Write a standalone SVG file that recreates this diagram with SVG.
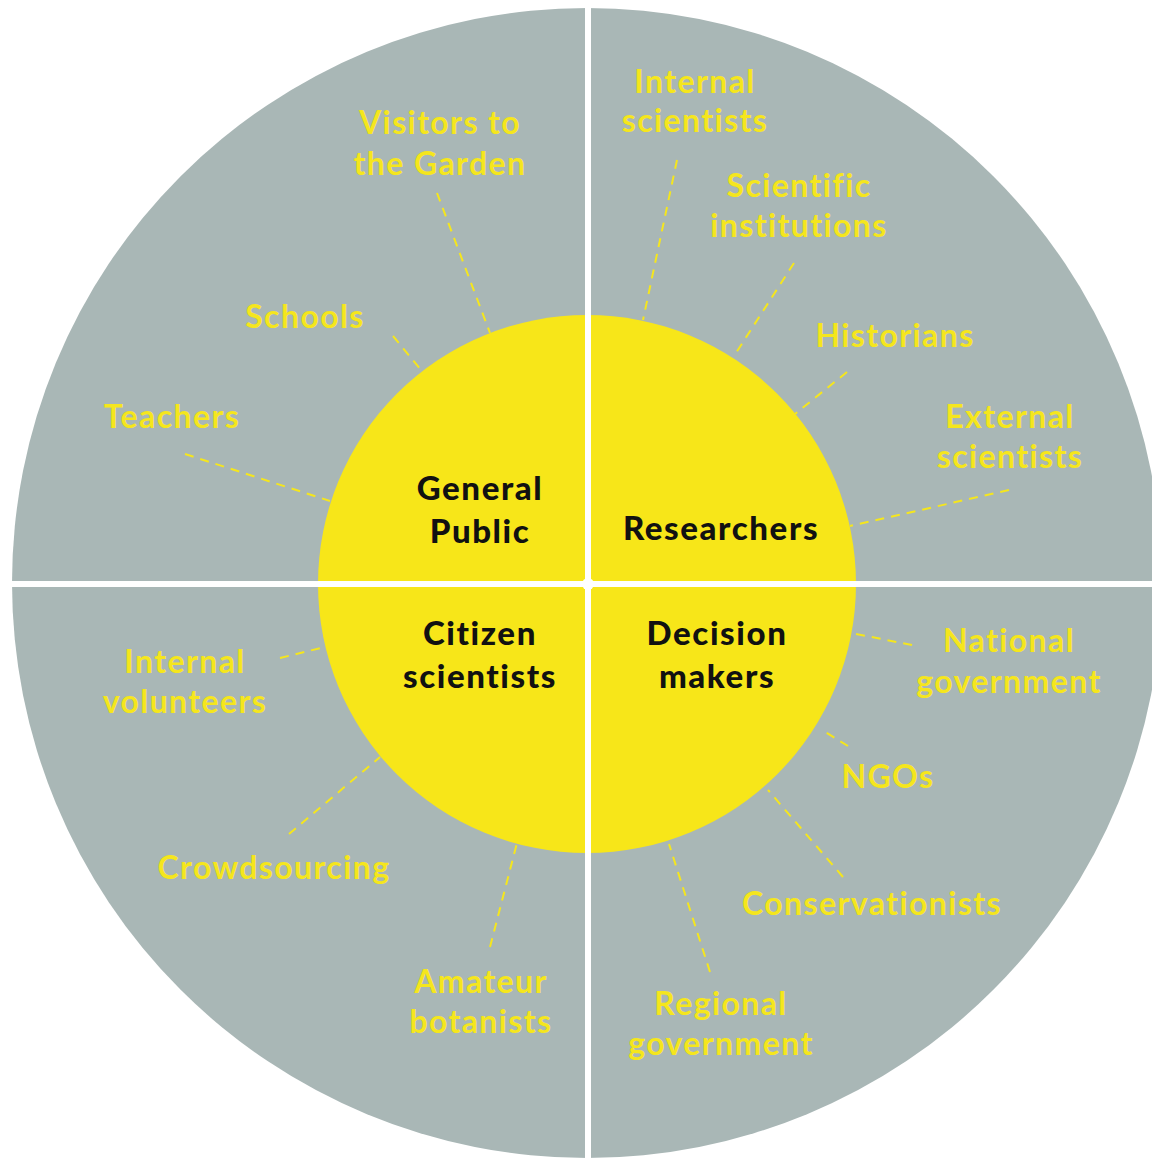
<svg xmlns="http://www.w3.org/2000/svg" width="1152" height="1159" viewBox="0 0 1152 1159">
<style>
.lbl{font-family:Lato,"Open Sans","Liberation Sans",sans-serif;font-weight:700;font-size:32px;fill:#f5e61d;text-anchor:middle;letter-spacing:1.4px}
.core{font-family:Lato,"Open Sans","Liberation Sans",sans-serif;font-weight:900;font-size:33px;fill:#111;text-anchor:middle;letter-spacing:1.6px}
.dash{stroke:#f5e61d;stroke-width:2;stroke-dasharray:9 7;fill:none}
</style>
<rect width="1152" height="1159" fill="#fff"/>
<g id="outer-ring">
<circle cx="587" cy="583" r="575" fill="#a9b7b6"/>
</g>
<g id="core-circle">
<circle cx="587" cy="584" r="269" fill="#f7e619"/>
</g>
<g id="dividers">
<rect x="585" y="0" width="6" height="1159" fill="#fff"/>
<rect x="0" y="581" width="1152" height="6" fill="#fff"/>
<circle cx="588" cy="584" r="6" fill="#fff"/>
</g>
<g id="connectors">
<line class="dash" x1="437" y1="193" x2="490" y2="333"/>
<line class="dash" x1="393" y1="336" x2="421" y2="370"/>
<line class="dash" x1="185" y1="454" x2="330" y2="501"/>
<line class="dash" x1="677" y1="160" x2="643" y2="320"/>
<line class="dash" x1="794" y1="263" x2="734" y2="356"/>
<line class="dash" x1="847" y1="372" x2="795" y2="414"/>
<line class="dash" x1="1009" y1="490" x2="850" y2="526"/>
<line class="dash" x1="280" y1="658" x2="325" y2="647"/>
<line class="dash" x1="289" y1="834" x2="380" y2="757"/>
<line class="dash" x1="490" y1="947" x2="517" y2="843"/>
<line class="dash" x1="710" y1="972" x2="669" y2="844"/>
<line class="dash" x1="843" y1="877" x2="768" y2="790"/>
<line class="dash" x1="848" y1="746" x2="822" y2="730"/>
<line class="dash" x1="912" y1="645" x2="851" y2="633"/>
</g>
<g id="general-public"><text class="core" x="480" y="500">General</text><text class="core" x="480" y="543">Public</text></g>
<g id="researchers"><text class="core" x="721" y="540">Researchers</text></g>
<g id="citizen-scientists"><text class="core" x="480" y="645">Citizen</text><text class="core" x="480" y="688">scientists</text></g>
<g id="decision-makers"><text class="core" x="717" y="645">Decision</text><text class="core" x="717" y="688">makers</text></g>
<g id="visitors"><text class="lbl" x="440" y="134">Visitors to</text><text class="lbl" x="440" y="175">the Garden</text></g>
<g id="schools"><text class="lbl" x="305" y="328">Schools</text></g>
<g id="teachers"><text class="lbl" x="172" y="428">Teachers</text></g>
<g id="internal-scientists"><text class="lbl" x="695" y="93">Internal</text><text class="lbl" x="695" y="132">scientists</text></g>
<g id="scientific-institutions"><text class="lbl" x="799" y="197">Scientific</text><text class="lbl" x="799" y="237">institutions</text></g>
<g id="historians"><text class="lbl" x="895" y="347">Historians</text></g>
<g id="external-scientists"><text class="lbl" x="1010" y="428">External</text><text class="lbl" x="1010" y="468">scientists</text></g>
<g id="internal-volunteers"><text class="lbl" x="185" y="673">Internal</text><text class="lbl" x="185" y="713">volunteers</text></g>
<g id="crowdsourcing"><text class="lbl" x="274" y="879">Crowdsourcing</text></g>
<g id="amateur-botanists"><text class="lbl" x="481" y="993">Amateur</text><text class="lbl" x="481" y="1033">botanists</text></g>
<g id="regional-government"><text class="lbl" x="721" y="1015">Regional</text><text class="lbl" x="721" y="1055">government</text></g>
<g id="conservationists"><text class="lbl" x="872" y="915">Conservationists</text></g>
<g id="ngos"><text class="lbl" x="888" y="788">NGOs</text></g>
<g id="national-government"><text class="lbl" x="1009" y="652">National</text><text class="lbl" x="1009" y="693">government</text></g>
</svg>
